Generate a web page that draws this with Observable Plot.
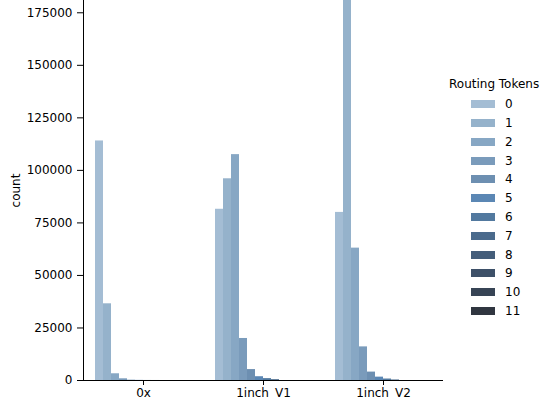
<!DOCTYPE html>
<html><head><meta charset="utf-8">
<script src="https://cdn.jsdelivr.net/npm/d3@7"></script>
<script src="https://cdn.jsdelivr.net/npm/@observablehq/plot@0.6"></script>
<style>
body{margin:0;background:#fff;font-family:"DejaVu Sans",sans-serif;}
#wrap{position:relative;width:554px;height:399px;overflow:hidden;background:#fff;}
#legend{position:absolute;left:449px;top:78px;font-size:12px;color:#000;line-height:1;}
#legend .title{height:17px;}
#legend .row{display:flex;align-items:center;height:18.77px;}
#legend .sw{width:24px;height:8px;margin-left:22px;margin-right:10px;}
</style></head><body><div id="wrap"></div>
<script>
const categories = ["0x", "1inch_V1", "1inch_V2"];
const tokens = [0, 1, 2, 3, 4, 5, 6, 7, 8, 9, 10, 11];
const count0x = [114000, 36500, 3200, 800, 150, 60, 20, 10, 0, 0, 0, 0];
const countV1 = [81500, 96000, 107500, 20000, 5200, 1800, 900, 400, 0, 0, 0, 0];
const countV2 = [80000, 195000, 63000, 16000, 4000, 1600, 700, 250, 0, 0, 0, 0];
const yTicks = [0, 25000, 50000, 75000, 100000, 125000, 150000, 175000];
const palette = ["#a4bdd4", "#95b2cb", "#87a7c4", "#7a9bbb", "#6d8fb1", "#5b87b4",
                 "#52799f", "#4a6a8c", "#445d7a", "#3d5068", "#374455", "#303640"];

const series = [count0x, countV1, countV2];
const data = [];
categories.forEach((c, ci) => tokens.forEach((t, ti) =>
  data.push({category: c, token: String(t), count: series[ci][ti]})));

const chart = Plot.plot({
  width: 554, height: 399,
  marginLeft: 83, marginRight: 111, marginTop: 0, marginBottom: 19,
  style: {fontFamily: "DejaVu Sans", fontSize: "12px", color: "#000", background: "#fff"},
  fx: {domain: categories, padding: 0, label: null, tickSize: 5, tickPadding: 3},
  x: {domain: tokens.map(String), padding: 0, inset: 12, axis: null},
  y: {domain: [0, 180850], ticks: yTicks, tickFormat: d => String(d), label: "count",
      labelAnchor: "center", labelArrow: "none", labelOffset: 72, tickSize: 6, tickPadding: 5, line: true},
  color: {domain: tokens.map(String), range: palette},
  marks: [
    Plot.barY(data, {fx: "category", x: "token", y: "count", fill: "token", clip: true}),
    Plot.ruleY([0], {stroke: "#000"})
  ]
});
const wrap = document.getElementById("wrap");
wrap.appendChild(chart);

const legend = document.createElement("div");
legend.id = "legend";
const title = document.createElement("div");
title.className = "title";
title.textContent = "Routing Tokens";
legend.appendChild(title);
tokens.forEach((t, i) => {
  const row = document.createElement("div");
  row.className = "row";
  const sw = document.createElement("div");
  sw.className = "sw";
  sw.style.background = palette[i];
  const lab = document.createElement("span");
  lab.textContent = String(t);
  row.appendChild(sw); row.appendChild(lab);
  legend.appendChild(row);
});
wrap.appendChild(legend);
</script></body></html>
